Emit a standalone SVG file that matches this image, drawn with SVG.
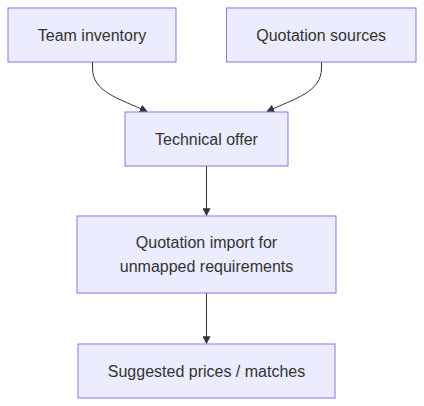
<svg xmlns="http://www.w3.org/2000/svg" width="424" height="406" viewBox="0 0 424 406">
<style>
.node rect{fill:#ECECFF;stroke:#9370DB;stroke-width:1px}
.node text{font-family:"Liberation Sans",Arial,sans-serif;font-size:16px;fill:#333;text-anchor:middle;dominant-baseline:central}
.edge{fill:none;stroke:#333;stroke-width:1px}
</style>
<defs>
<marker id="arrow" viewBox="0 0 10 10" refX="9" refY="5" markerWidth="8" markerHeight="8" markerUnits="userSpaceOnUse" orient="auto">
<path d="M0,0 L10,5 L0,10 z" fill="#333"/>
</marker>
</defs>
<rect width="424" height="406" fill="#fff"/>
<g id="connectors">
<path class="edge" d="M92.5,62 L92.5,68 C92.5,92 118,98 147,111.5" marker-end="url(#arrow)"/>
<path class="edge" d="M321.5,62 L321.5,68 C321.5,92 296,98 267,111.5" marker-end="url(#arrow)"/>
<path class="edge" d="M206.5,166 L206.5,215.5" marker-end="url(#arrow)"/>
<path class="edge" d="M206.5,293 L206.5,343.5" marker-end="url(#arrow)"/>
</g>
<g id="team-inventory" class="node">
<rect x="8" y="8" width="168" height="54"/>
<text x="92" y="35">Team inventory</text>
</g>
<g id="quotation-sources" class="node">
<rect x="226.5" y="8" width="189.5" height="54"/>
<text x="321.2" y="35">Quotation sources</text>
</g>
<g id="technical-offer" class="node">
<rect x="125" y="112" width="163" height="54"/>
<text x="206.5" y="139">Technical offer</text>
</g>
<g id="quotation-import" class="node">
<rect x="77" y="216" width="259" height="77"/>
<text x="206.5" y="242.5">Quotation import for</text>
<text x="206.5" y="266.5">unmapped requirements</text>
</g>
<g id="suggested-prices" class="node">
<rect x="78" y="344" width="257" height="54"/>
<text x="206.5" y="371">Suggested prices / matches</text>
</g>
</svg>
